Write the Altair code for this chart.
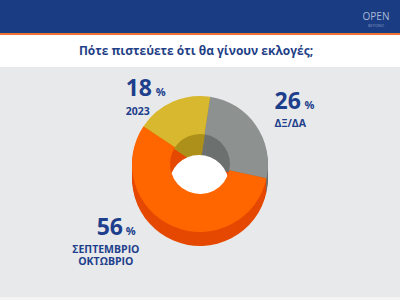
import altair as alt
import pandas as pd
import math

# ---- data ----
categories = ["ΔΞ/ΔΑ", "ΣΕΠΤΕΜΒΡΙΟ\nΟΚΤΩΒΡΙΟ", "2023"]
values = [26, 56, 18]
order = [0, 1, 2]
title_text = "Πότε πιστεύετε ότι θα γίνουν εκλογές;"

top_colors = ["#8d9290", "#ff6600", "#d8b82f"]
side_colors = ["#6c716f", "#e54800", "#ad901a"]

df = pd.DataFrame({"cat": categories, "value": values, "ord": order})
df["num"] = df["value"].astype(str)

W, H = 400, 300
CX, CY = 200, 164
R_OUT, R_IN = 68, 30
DEPTH = 14
START = 0.15

theta_scale = alt.Scale(domain=[0, 100], range=[START, START + 2 * math.pi])

one = pd.DataFrame({"a": [1]})


def band(y0, y1, color):
    return alt.Chart(one).mark_rect(color=color).encode(
        x=alt.value(0), x2=alt.value(W), y=alt.value(y0), y2=alt.value(y1)
    )


bg = alt.layer(
    band(0, 300, "#e8e9eb"),
    band(0, 33, "#1a3c82"),
    band(33, 35, "#ef7536"),
    band(35, 67, "#ffffff"),
    band(297, 300, "#f4f4f5"),
)

title = alt.Chart(one).mark_text(
    text=title_text, font="Open Sans", fontWeight="bold", fontSize=12,
    color="#1f3f87", align="center", baseline="middle"
).encode(x=alt.value(196), y=alt.value(51))

logo = alt.Chart(one).mark_text(
    text="OPEN", font="Open Sans", fontSize=10, color="#aab9d8", align="center", baseline="middle"
).encode(x=alt.value(376), y=alt.value(17))
logo2 = alt.Chart(one).mark_text(
    text="BEYOND", font="Open Sans", fontSize=4, color="#8396bf", align="center", baseline="middle"
).encode(x=alt.value(376), y=alt.value(26))

# stacked angles
base = alt.Chart(df).transform_window(
    cum="sum(value)", sort=[alt.SortField("ord")]
).transform_calculate(
    start="datum.cum - datum.value", mid="datum.cum - datum.value / 2"
)


def ring(dy, colors, field, inner):
    return base.transform_calculate(**{field: "datum.cat"}).mark_arc(radius=R_OUT, radius2=inner).encode(
        theta=alt.Theta("start:Q", scale=theta_scale),
        theta2="cum:Q",
        color=alt.Color(f"{field}:N", scale=alt.Scale(domain=categories, range=colors), legend=None),
        x=alt.value(CX), y=alt.value(CY + dy),
    )


side = alt.layer(*[ring(d, side_colors, "sidecat", 0) for d in range(DEPTH, 0, -2)])

hole = alt.Chart(one).mark_arc(color="#ffffff", radius=R_IN).encode(
    theta=alt.value(2 * math.pi), x=alt.value(CX - 1), y=alt.value(CY + 21)
)

top = ring(0, top_colors, "topcat", R_IN)

LBL = "#1d3f8c"


def label(i, r, dx, dy, align, pct_dx, name_dx, gap):
    b = base.transform_filter(alt.datum.ord == i)
    enc = dict(theta=alt.Theta("mid:Q", scale=theta_scale), radius=alt.value(r),
               x=alt.value(CX), y=alt.value(CY))
    num = b.mark_text(font="Open Sans", fontWeight="bold", fontSize=23, color=LBL,
                      align=align, baseline="alphabetic", dx=dx, dy=dy).encode(text="num:N", **enc)
    pct = b.mark_text(font="Open Sans", fontWeight="bold", fontSize=11, color=LBL,
                      align="left", baseline="alphabetic", dx=dx + pct_dx, dy=dy).encode(
        text=alt.value("%"), **enc)
    name = b.mark_text(font="Open Sans", fontWeight="bold", fontSize=10.5, color=LBL,
                       align=align, baseline="top", lineBreak="\n", lineHeight=12.5,
                       dx=dx + name_dx, dy=dy + gap).encode(text="cat:N", **enc)
    return alt.layer(num, pct, name)


lab_gray = label(0, 110, -16, 7, "left", 30, 0, 10)
lab_orange = label(1, 90, -55, -12, "center", 16, -4, 10)
lab_yellow = label(2, 80, -42, 5, "left", 30, 0, 11)

pie = alt.layer(side, hole, top).resolve_scale(color="independent")

chart = alt.layer(
    bg, title, logo, logo2, pie, lab_gray, lab_orange, lab_yellow
).resolve_scale(color="independent").properties(
    width=W, height=H, padding=0, autosize=alt.AutoSizeParams(type="none")
).configure_view(stroke=None)

chart.save("out.html", embed_options={"renderer": "svg", "actions": False})
